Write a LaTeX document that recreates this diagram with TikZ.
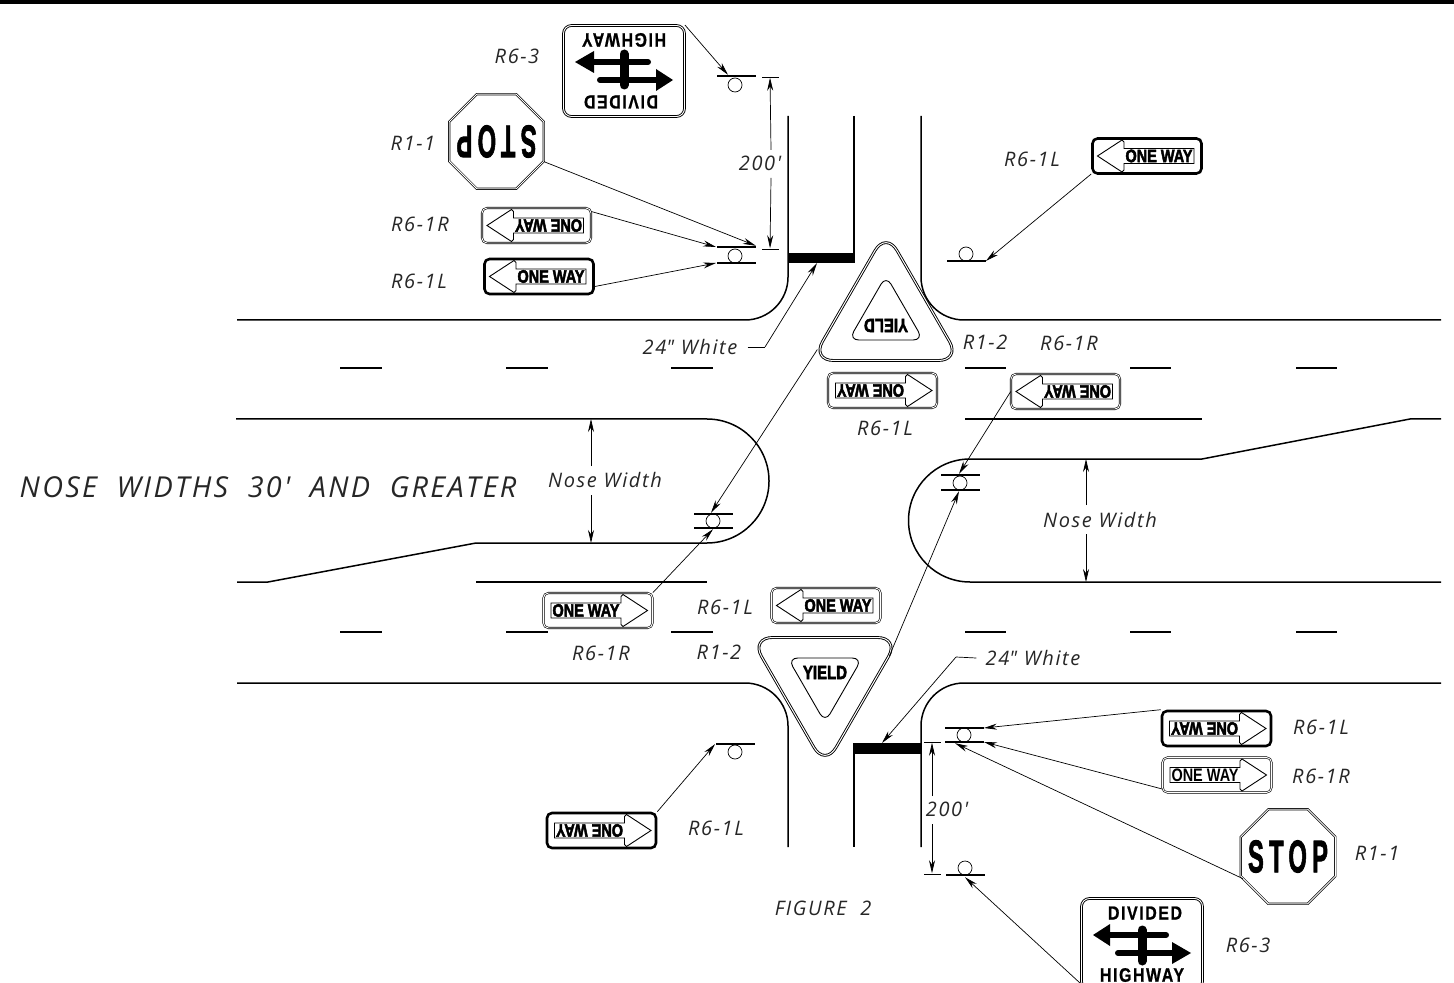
\documentclass[tikz,border=0pt]{standalone}
\usepackage{graphicx}
\usepackage{fontspec}
\usepackage{tikz}
\usetikzlibrary{arrows.meta,shapes.geometric}
\newfontfamily\cadfont[LetterSpace=8]{Open Sans}
\newfontfamily\signfont{Liberation Sans}
\newfontfamily\heavyfont[BoldFeatures={FakeBold=3}]{Liberation Sans}
\newfontfamily\stopfont[LetterSpace=10,BoldFeatures={FakeBold=1}]{Liberation Sans}
\newfontfamily\bigstopfont[LetterSpace=22,BoldFeatures={FakeBold=2}]{Liberation Sans}
\tikzset{
  road/.style = {line width=0.75pt},
  lead/.style = {-{Stealth[length=6.5pt,width=3pt]}, line width=0.35pt},
  leadline/.style = {line width=0.35pt},
  bar_n/.style = {rectangle, fill=black, inner sep=0pt, minimum width=19.5pt, minimum height=0.8pt},
  tick_n/.style = {rectangle, fill=black, inner sep=0pt, minimum width=8.5pt, minimum height=0.35pt},
  post_n/.style = {circle, draw=black, fill=white, inner sep=0pt, minimum size=7pt, line width=0.35pt},
  lbl_n/.style = {font=\cadfont\itshape\fontsize{10}{12}\selectfont, inner sep=0pt, text=black!85},
  txt_n/.style = {inner sep=0pt},
  sgn_thin/.style = {double, line width=0.3pt, double distance=0.45pt},
  sgn_thick/.style = {line width=1.3pt},
  oneway_n/.style = {rectangle, draw=black, rounded corners=2.5pt, minimum width=54.5pt,
    minimum height=17.5pt, inner sep=0pt},
  divided_n/.style = {rectangle, draw=black, sgn_thin, line width=0.45pt, rounded corners=4pt,
    minimum width=60.5pt, minimum height=45.5pt, inner sep=0pt},
  stop_n/.style = {regular polygon, regular polygon sides=8, draw=black, sgn_thin,
    line width=0.35pt, minimum size=51.2pt, inner sep=0pt},
  yield_n/.style = {regular polygon, regular polygon sides=3, draw=black, sgn_thin,
    line width=0.45pt, double distance=0.5pt, rounded corners=11pt, minimum size=86pt, inner sep=0pt},
  yieldin_n/.style = {regular polygon, regular polygon sides=3, draw=black, line width=0.45pt,
    rounded corners=5pt, minimum size=43pt, inner sep=0pt}
}
% name, x, y, rotation, direction of the arrow, border, font
\newcommand{\onewaysign}[7]{
  \node [oneway_n, #6] (#1) at (#2,#3) {};
  \begin{scope}[shift={(#2,#3)}, rotate=#4, xscale=#5]
    \draw [line width=0.45pt] (-49.5,0) -- (-25,-16) -- (-23,-14) -- (-23,-7.5) -- (47,-7.5)
      -- (47,7.5) -- (-23,7.5) -- (-23,14) -- (-25,16) -- cycle;
    \node [txt_n, rotate=#4] (#1_txt) at (12,0) {\resizebox{33.5pt}{6.3pt}{#7\bfseries ONE WAY}};
  \end{scope}
}
% name, x, y, rotation
\newcommand{\dividedsign}[4]{
  \node [divided_n] (#1) at (#2,#3) {};
  \begin{scope}[shift={(#2,#3)}, rotate=#4]
    \node [txt_n, rotate=#4] (#1_top) at (3,-31) {\resizebox{37pt}{6.5pt}{\stopfont\bfseries DIVIDED}};
    \node [txt_n, rotate=#4] (#1_bot) at (0,31) {\resizebox{42pt}{6.8pt}{\stopfont\bfseries HIGHWAY}};
    \fill (-49,-9) -- (-32,-20) -- (-32,2) -- cycle;
    \fill (49,9) -- (30,-2) -- (30,20) -- cycle;
    \draw [line width=3pt, line cap=round] (-32,-9) -- (24,-9);
    \draw [line width=3pt, line cap=round] (-24,9) -- (30,9);
    \draw [line width=4.5pt, line cap=round] (0,-14) -- (0,17);
  \end{scope}
}
% name, x, y, rotation
\newcommand{\stopsign}[4]{
  \node [stop_n] (#1) at (#2,#3) {};
  \node [txt_n, rotate=#4] (#1_txt) at (#2,#3) {\resizebox{40pt}{16pt}{\bigstopfont\bfseries STOP}};
}
% name, x, y, rotation
\newcommand{\yieldsign}[4]{
  \node [yield_n, shape border rotate=#4+180] (#1) at (#2,#3) {};
  \begin{scope}[shift={(#2,#3)}, rotate=#4]
    \node [yieldin_n, shape border rotate=#4+180] (#1_in) at (0,-1) {};
    \node [txt_n, rotate=#4] (#1_txt) at (0,-8) {\resizebox{22pt}{6.5pt}{\heavyfont\bfseries YIELD}};
  \end{scope}
}

\begin{document}
\begin{tikzpicture}[x=0.5pt,y=-0.5pt]
  \useasboundingbox (0,0) rectangle (1454,983);
  \clip (0,0) rectangle (1454,983);
  \fill (0,0) rectangle (1454,4.5);

  % roads
  \draw [road] (237,320) -- (745,320) arc[start angle=-90,end angle=0,radius=21.5pt] -- (788,116);
  \draw [road] (854,116) -- (854,253);
  \draw [road] (921,116) -- (921,277) arc[start angle=180,end angle=270,radius=21.5pt] -- (1441,320);
  \draw [road] (237,683) -- (745,683) arc[start angle=90,end angle=0,radius=21.5pt] -- (788,847);
  \draw [road] (854,743) -- (854,847);
  \draw [road] (921,847) -- (921,726) arc[start angle=180,end angle=90,radius=21.5pt] -- (1441,683);
  \draw [road] (236,419) -- (707,419) arc[start angle=90,end angle=-90,radius=31pt] -- (476,543)
    -- (268,582) -- (237,582);
  \draw [road] (1441,419) -- (1410,419) -- (1202,459) -- (970,459)
    arc[start angle=90,end angle=270,radius=30.75pt] -- (1441,582);
  \draw [road] (476,582) -- (707,582);
  \draw [road] (965,419) -- (1202,419);
  \draw [road] (340,368) -- (382,368) (506,368) -- (548,368) (671,368) -- (713,368)
    (965,368) -- (1006,368) (1130,368) -- (1171,368) (1296,368) -- (1337,368);
  \draw [road] (340,632) -- (382,632) (506,632) -- (548,632) (671,632) -- (713,632)
    (965,632) -- (1006,632) (1130,632) -- (1171,632) (1296,632) -- (1337,632);
  \fill (788,253) rectangle (855,263);
  \fill (853,743) rectangle (921,754);

  % posts
  \node [post_n] (post_a) at (735,85) {};
  \node [bar_n] (bar_a) at (736,76) {};
  \node [post_n] (post_b) at (735,256) {};
  \node [bar_n] (bar_b) at (736,247) {};
  \node [bar_n] (bar_c) at (736,263) {};
  \node [post_n] (post_d) at (966,254) {};
  \node [bar_n] (bar_d) at (966,261) {};
  \node [post_n] (post_e) at (713,521) {};
  \node [bar_n] (bar_e) at (713,514) {};
  \node [bar_n] (bar_f) at (713,528) {};
  \node [post_n] (post_g) at (960,483) {};
  \node [bar_n] (bar_g) at (960,475) {};
  \node [bar_n] (bar_h) at (960,490) {};
  \node [post_n] (post_i) at (735,752) {};
  \node [bar_n] (bar_i) at (735,744) {};
  \node [post_n] (post_j) at (964,735) {};
  \node [bar_n] (bar_j) at (964,728) {};
  \node [bar_n] (bar_k) at (964,742) {};
  \node [post_n] (post_l) at (965,868) {};
  \node [bar_n] (bar_l) at (965,875) {};

  % signs
  \dividedsign{r63_top}{624}{71}{180}
  \stopsign{r11_top}{496.5}{141.5}{180}
  \onewaysign{r61r_a}{536.5}{225.5}{180}{-1}{sgn_thin}{\heavyfont}
  \onewaysign{r61l_a}{539}{276.5}{0}{1}{sgn_thick}{\heavyfont}
  \onewaysign{r61l_b}{1147}{156}{0}{1}{sgn_thick}{\heavyfont}
  \yieldsign{r12_top}{886}{317.5}{180}
  \onewaysign{r61l_c}{882.5}{390.5}{180}{1}{sgn_thin}{\heavyfont}
  \onewaysign{r61r_b}{1065.5}{391.5}{180}{-1}{sgn_thin}{\heavyfont}
  \onewaysign{r61r_c}{598}{610.5}{0}{-1}{sgn_thin}{\heavyfont}
  \onewaysign{r61l_d}{826}{605.5}{0}{1}{sgn_thin}{\heavyfont}
  \yieldsign{r12_bot}{825}{680.5}{0}
  \onewaysign{r61l_e}{601.5}{830.5}{180}{1}{sgn_thick}{\heavyfont}
  \onewaysign{r61l_f}{1216.5}{728.5}{180}{1}{sgn_thick}{\heavyfont}
  \onewaysign{r61r_d}{1217}{775}{0}{-1}{sgn_thin}{\signfont}
  \stopsign{r11_bot}{1288}{856.5}{0}
  \dividedsign{r63_bot}{1142}{944}{0}

  % labels
  \node [lbl_n] (lbl_a) at (517,56) {R6-3};
  \node [lbl_n] (lbl_b) at (413,143) {R1-1};
  \node [lbl_n] (lbl_c) at (420,224) {R6-1R};
  \node [lbl_n] (lbl_d) at (419,281) {R6-1L};
  \node [lbl_n] (lbl_e) at (1032,159) {R6-1L};
  \node [lbl_n] (lbl_f) at (985,342) {R1-2};
  \node [lbl_n] (lbl_g) at (1069,343) {R6-1R};
  \node [lbl_n] (lbl_h) at (885,428) {R6-1L};
  \node [lbl_n] (lbl_i) at (725,607) {R6-1L};
  \node [lbl_n] (lbl_j) at (601,653) {R6-1R};
  \node [lbl_n] (lbl_k) at (719,652) {R1-2};
  \node [lbl_n] (lbl_l) at (716,828) {R6-1L};
  \node [lbl_n] (lbl_m) at (1321,727) {R6-1L};
  \node [lbl_n] (lbl_n) at (1321,776) {R6-1R};
  \node [lbl_n] (lbl_o) at (1377,853) {R1-1};
  \node [lbl_n] (lbl_p) at (1248,945) {R6-3};
  \node [lbl_n] (fig_lbl) at (823,908) {FIGURE\ \ 2};
  \node [lbl_n] (white_a) at (690,347) {24{\textquotedbl} White};
  \node [lbl_n] (white_b) at (1033,658) {24{\textquotedbl} White};
  \node [lbl_n] (dist_a) at (760,163) {200'};
  \node [lbl_n] (dist_b) at (947,809) {200'};
  \node [lbl_n] (nose_a) at (605,480) {Nose Width};
  \node [lbl_n] (nose_b) at (1100,520) {Nose Width};
  \node [lbl_n, font=\cadfont\itshape\fontsize{14.4}{17}\selectfont] (nose_title) at (268,487)
    {NOSE\ \ WIDTHS\ \ 30'\ \ AND\ \ GREATER};

  % leaders
  \draw [lead] (r63_top.north east) -- ([xshift=-4pt]bar_a.north);
  \draw [lead] (r11_top.-23) -- (bar_b.north east);
  \draw [lead] ([yshift=7pt]r61r_a.east) -- (bar_b.west);
  \draw [lead] ([yshift=-5pt]r61l_a.east) -- (bar_c.west);
  \draw [lead] ([yshift=-9pt]r61l_b.west) -- (bar_d.east);
  \draw [lead] (r12_top.205) -- ([xshift=-1pt]bar_e.north);
  \draw [lead] (r61r_c.north east) -- (bar_f.south);
  \draw [lead] (r61r_b.west) -- ([xshift=-0.5pt]bar_g.north);
  \draw [lead] (r12_bot.21) -- ([xshift=-0.5pt]bar_h.south);
  \draw [lead] (r61l_e.north east) -- (bar_i.west);
  \draw [lead] (r61l_f.north west) -- (bar_j.east);
  \draw [lead] ([yshift=-7pt]r61r_d.west) -- (bar_k.east);
  \draw [lead] (r11_bot.206) -- ([xshift=-4.5pt]bar_k.south);
  \draw [lead] ([yshift=-20pt]r63_bot.west) -- ([yshift=-0.5pt]bar_l.south);

  % 24 inch bars
  \coordinate (bend_a) at (765,347);
  \coordinate (stop_a) at (817,263);
  \draw [leadline] ([xshift=5pt]white_a.east) -- (bend_a);
  \draw [lead] (bend_a) -- (stop_a);
  \coordinate (bend_b) at (956,657);
  \coordinate (stop_b) at (882,743);
  \draw [leadline] ([xshift=-4.5pt]white_b.west) -- (bend_b);
  \draw [lead] (bend_b) -- (stop_b);

  % dimensions
  \node [tick_n] (tick_a) at (770,77) {};
  \node [tick_n] (tick_b) at (770,249) {};
  \node [tick_n] (tick_c) at (932,742) {};
  \node [tick_n] (tick_d) at (932,874) {};
  \coordinate (dim_a) at (771,150);
  \coordinate (dim_b) at (771,178);
  \coordinate (dim_c) at (932,796);
  \coordinate (dim_d) at (932,824);
  \draw [lead] (dim_a) -- (tick_a);
  \draw [lead] (dim_b) -- (tick_b);
  \draw [lead] (dim_c) -- (tick_c);
  \draw [lead] (dim_d) -- (tick_d);
  \coordinate (nose_c) at (591,466);
  \coordinate (nose_d) at (591,495);
  \coordinate (nose_e) at (591,419);
  \coordinate (nose_f) at (591,543);
  \coordinate (nose_g) at (1086,505);
  \coordinate (nose_h) at (1086,534);
  \coordinate (nose_i) at (1086,459);
  \coordinate (nose_j) at (1086,582);
  \draw [lead] (nose_c) -- (nose_e);
  \draw [lead] (nose_d) -- (nose_f);
  \draw [lead] (nose_g) -- (nose_i);
  \draw [lead] (nose_h) -- (nose_j);
\end{tikzpicture}
\end{document}
